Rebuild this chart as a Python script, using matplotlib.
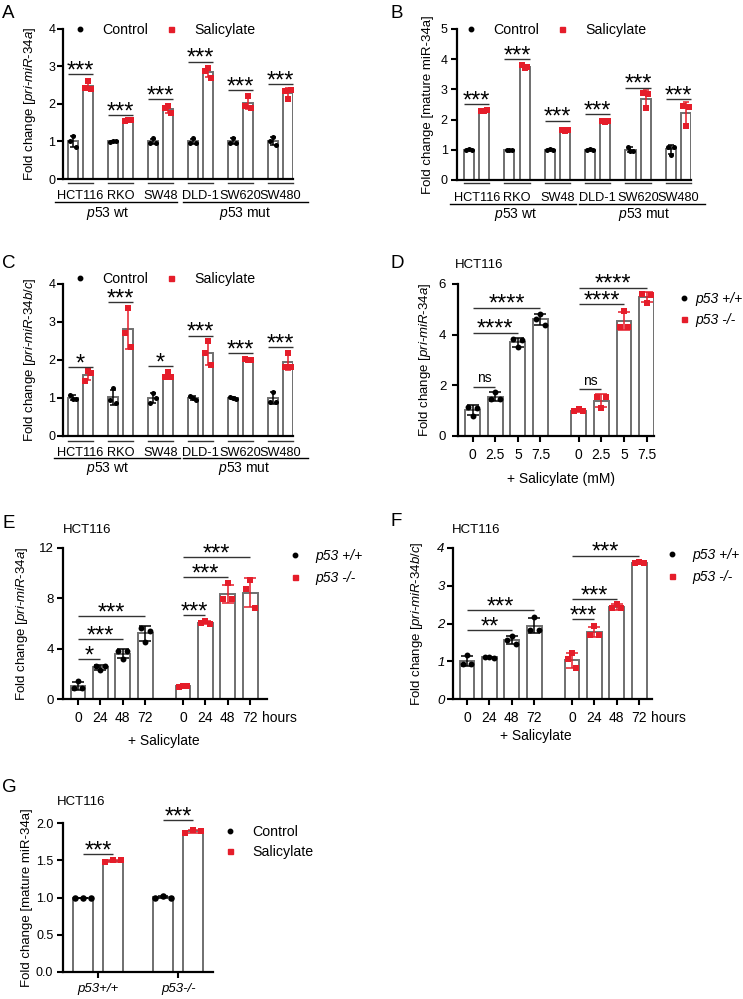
import numpy as np
import matplotlib
matplotlib.use('Agg')
import matplotlib.pyplot as plt
from matplotlib.lines import Line2D
from matplotlib.transforms import blended_transform_factory

plt.rcParams['font.family'] = ['Liberation Sans', 'DejaVu Sans']
plt.rcParams['mathtext.fontset'] = 'custom'
plt.rcParams['mathtext.rm'] = 'Liberation Sans'
plt.rcParams['mathtext.it'] = 'Liberation Sans:italic'
plt.rcParams['mathtext.bf'] = 'Liberation Sans:bold'

# ------------------------------------------------------------------ data
cell_lines = ['HCT116', 'RKO', 'SW48', 'DLD-1', 'SW620', 'SW480']
p53_status = [r'$\mathit{p53}$ wt', r'$\mathit{p53}$ mut']
treat_labels = ['Control', 'Salicylate']
genotype_labels = ['p53 +/+', 'p53 -/-']

# Panel A: pri-miR-34a (replicates)
A_control = [[1.00, 1.15, 0.86], [0.99, 1.02, 1.00], [0.97, 1.08, 0.96],
             [0.96, 1.08, 0.97], [0.97, 1.10, 0.97], [1.00, 1.12, 0.90]]
A_salicylate = [[2.42, 2.60, 2.40], [1.55, 1.57, 1.57], [1.90, 1.95, 1.75],
                [2.88, 2.95, 2.70], [1.95, 2.20, 1.90], [2.35, 2.12, 2.38]]
A_sig_y = [2.80, 1.71, 2.12, 3.13, 2.37, 2.52]
A_sig = ['***', '***', '***', '***', '***', '***']

# Panel B: mature miR-34a
B_control = [[0.99, 1.01, 1.00], [1.00, 1.00, 1.00], [0.99, 1.01, 1.00],
             [0.99, 1.01, 1.00], [1.10, 0.97, 0.95], [1.10, 0.83, 1.10]]
B_salicylate = [[2.28, 2.30, 2.32], [3.80, 3.72, 3.75], [1.65, 1.63, 1.65],
                [1.95, 1.93, 1.97], [2.87, 2.37, 2.84], [2.45, 1.79, 2.41]]
B_sig_y = [2.52, 4.00, 1.96, 2.17, 3.06, 2.67]
B_sig = ['***', '***', '***', '***', '***', '***']

# Panel C: pri-miR-34b/c
C_control = [[1.08, 0.97, 0.97], [0.95, 1.25, 0.87], [0.88, 1.14, 0.99],
             [1.05, 1.00, 0.95], [1.02, 1.00, 0.98], [0.90, 1.17, 0.90]]
C_salicylate = [[1.45, 1.70, 1.65], [2.70, 3.36, 2.35], [1.55, 1.69, 1.55],
                [2.18, 2.51, 1.87], [2.02, 2.00, 2.00], [1.82, 2.18, 1.82]]
C_sig_y = [1.82, 3.53, 1.84, 2.64, 2.18, 2.34]
C_sig = ['*', '***', '*', '***', '***', '***']

# Panel D: dose (mM)
D_doses = ['0', '2.5', '5', '7.5']
D_wt = [[1.16, 0.79, 1.09], [1.45, 1.75, 1.45], [3.83, 3.50, 3.79], [4.61, 4.82, 4.39]]
D_ko = [[0.98, 1.05, 0.98], [1.55, 1.09, 1.55], [4.32, 4.94, 4.32], [5.61, 5.24, 5.57]]
D_sig_wt = [(1, 1.95, 'ns'), (2, 4.08, '****'), (3, 5.06, '****')]
D_sig_ko = [(1, 1.85, 'ns'), (2, 5.20, '****'), (3, 5.85, '****')]

# Panel E: time course pri-miR-34a
time_labels = ['0', '24', '48', '72']
E_wt = [[0.85, 1.43, 0.85], [2.65, 2.30, 2.65], [3.82, 3.18, 3.84], [5.67, 4.56, 5.43]]
E_ko = [[0.98, 1.06, 1.06], [6.02, 6.20, 6.00], [7.93, 9.20, 7.93], [8.72, 9.46, 7.20]]
E_sig_wt = [(1, 3.18, '*'), (2, 4.77, '***'), (3, 6.60, '***')]
E_sig_ko = [(1, 6.65, '***'), (2, 9.67, '***'), (3, 11.26, '***')]

# Panel F: time course pri-miR-34b/c
F_wt = [[0.93, 1.17, 0.93], [1.12, 1.10, 1.08], [1.56, 1.67, 1.45], [1.83, 2.18, 1.83]]
F_ko = [[1.05, 1.21, 0.81], [1.70, 1.93, 1.70], [2.40, 2.52, 2.40], [3.59, 3.64, 3.59]]
F_sig_wt = [(2, 1.83, '**'), (3, 2.36, '***')]
F_sig_ko = [(1, 2.11, '***'), (2, 2.65, '***'), (3, 3.80, '***')]

# Panel G: mature miR-34a in p53 +/+ and -/-
G_genotypes = ['p53+/+', 'p53-/-']
G_control = [[1.00, 1.00, 1.00], [1.00, 1.02, 1.00]]
G_salicylate = [[1.48, 1.50, 1.50], [1.87, 1.90, 1.89]]
G_sig_y = [1.58, 2.04]

# ------------------------------------------------------------------ style
RED = '#e51d2a'
EDGE = '#6f6f6f'
SIGC = '#333333'
W, H = 743, 999
fig = plt.figure(figsize=(W / 100, H / 100), dpi=100)


def px_ax(l, t, r, b):
    ax = fig.add_axes([l / W, 1 - b / H, (r - l) / W, (b - t) / H])
    ax.box = (l, t, r, b)
    for s in ['top', 'right']:
        ax.spines[s].set_visible(False)
    for s in ['left', 'bottom']:
        ax.spines[s].set_linewidth(1.6)
        ax.spines[s].set_color('black')
    return ax


def yfrac(ax, py):
    l, t, r, b = ax.box
    return (b - py) / (b - t)


def xfrac(ax, px):
    l, t, r, b = ax.box
    return (px - l) / (r - l)


def draw_bars(ax, xs, reps, width, color, marker, spread, capsize, s):
    reps = np.array(reps, dtype=float)
    means = reps.mean(axis=1)
    sds = reps.std(axis=1, ddof=1)
    ax.bar(xs, means, width=width, facecolor='white', edgecolor=EDGE,
           linewidth=1.4, zorder=2)
    ax.errorbar(xs, means, yerr=sds, fmt='none', ecolor=color, elinewidth=1.1,
                capsize=capsize, capthick=1.1, zorder=3)
    offs = np.array([-spread, 0.0, spread]) * width
    for x, row in zip(xs, reps):
        ax.scatter(x + offs, row, s=s, color=color, marker=marker, zorder=4,
                   linewidths=0, clip_on=False)


def sig(ax, x1, x2, y, txt):
    ax.plot([x1, x2], [y, y], color=SIGC, lw=1.0, zorder=5, clip_on=False,
            solid_capstyle='butt')
    if txt == 'ns':
        ax.annotate(txt, xy=((x1 + x2) / 2, y), xytext=(0, 3.0),
                    textcoords='offset points', ha='center', va='baseline',
                    fontsize=10, annotation_clip=False)
    else:
        ax.annotate(txt, xy=((x1 + x2) / 2, y), xytext=(0, -2.3),
                    textcoords='offset points', ha='center', va='baseline',
                    fontsize=17, annotation_clip=False)


def set_ylabel_px(ax, text, cx_px, fs=9.5):
    ax.set_ylabel(text, fontsize=fs)
    ax.yaxis.set_label_coords(xfrac(ax, cx_px + 6.2), 0.5)


def legend(ax, labels, x_marker, y_center, ncol, fs, italic, htp, csp=1.0, lsp=0.55):
    handles = [Line2D([], [], marker='o', color='black', ls='', ms=3.2),
               Line2D([], [], marker='s', color=RED, ls='', ms=3.6)]
    fs_px = fs * 100 / 72
    prop = {'size': fs}
    if italic:
        prop['style'] = 'italic'
    ax.legend(handles, labels, ncol=ncol, frameon=False, loc='center left',
              bbox_to_anchor=((x_marker - 0.5 * fs_px) / W, 1 - y_center / H),
              bbox_transform=fig.transFigure, prop=prop, handlelength=1.0,
              handletextpad=htp, columnspacing=csp, labelspacing=lsp,
              borderaxespad=0, borderpad=0)


def letter(ch, x, y):
    fig.text(x / W, 1 - y / H, ch, fontsize=13.5, ha='left', va='baseline')


def fig_text(txt, x, y, ha='left', fs=9.5):
    fig.text(x / W, 1 - y / H, txt, fontsize=fs, ha=ha, va='baseline')


# ------------------------------------------------------------- panels A-C
def cell_panel(ax, ctrl, sal, ylim, yticks, sig_y, sig_txt, w, xlim,
               ylab, ylab_cx, ypad, pair_py, lab_py, long_py, long_spans,
               p53_x, p53_py, leg_y, leg_x):
    xc = np.arange(len(cell_lines), dtype=float)
    xs = xc + 0.375
    draw_bars(ax, xc, ctrl, w, 'black', 'o', 0.28, 2.4, 13)
    draw_bars(ax, xs, sal, w, RED, 's', 0.28, 2.4, 13)
    for i in range(len(cell_lines)):
        sig(ax, xc[i] - w / 2, xs[i] + w / 2, sig_y[i], sig_txt[i])
    ax.set_xlim(*xlim)
    ax.set_ylim(*ylim)
    ax.set_yticks(yticks)
    ax.set_xticks([])
    ax.tick_params(axis='y', direction='out', length=4.5, width=1.5,
                   labelsize=9, pad=ypad)
    set_ylabel_px(ax, ylab, ylab_cx)
    tr = blended_transform_factory(ax.transData, ax.transAxes)
    for i, name in enumerate(cell_lines):
        ax.plot([xc[i] - w / 2, xs[i] + w / 2], [yfrac(ax, pair_py)] * 2,
                transform=tr, color=SIGC, lw=1.0, clip_on=False)
        ax.text((xc[i] + xs[i]) / 2, yfrac(ax, lab_py), name, transform=tr,
                ha='center', va='baseline', fontsize=9.2)
    for (a, b), lab, px in zip(long_spans, p53_status, p53_x):
        ax.plot([a, b], [yfrac(ax, long_py)] * 2, transform=tr, color='black',
                lw=1.0, clip_on=False)
        ax.text(px, yfrac(ax, p53_py), lab, transform=tr, ha='center',
                va='baseline', fontsize=10)
    legend(ax, treat_labels, leg_x[0], leg_y, 2, 10.2, False, 1.1, csp=1.1)


axA = px_ax(63, 29, 293, 179)
cell_panel(axA, A_control, A_salicylate, (0, 4), [0, 1, 2, 3, 4], A_sig_y, A_sig,
           0.24, (-0.25, 5.5),
           r'Fold change [$\mathit{pri}$-$\mathit{miR}$-$\mathit{34a}$]', 32, 1.0,
           183, 199, 202, [(-0.45, 2.6), (2.75, 5.875)], [0.875, 4.3], 217,
           30, (80,))

axB = px_ax(457, 29, 691, 180)
cell_panel(axB, B_control, B_salicylate, (0, 5), [0, 1, 2, 3, 4, 5], B_sig_y, B_sig,
           0.25, (-0.3, 5.5), 'Fold change [mature miR-34a]', 428, 2.2,
           183.3, 201.5, 204, [(-0.47, 2.65), (2.73, 5.84)], [1.14, 4.33], 218,
           30, (471,))

axC = px_ax(63, 284, 293, 436)
cell_panel(axC, C_control, C_salicylate, (0, 4), [0, 1, 2, 3, 4], C_sig_y, C_sig,
           0.24, (-0.25, 5.5),
           r'Fold change [$\mathit{pri}$-$\mathit{miR}$-$\mathit{34b/c}$]', 32, 1.0,
           440.7, 456, 458.5, [(-0.475, 2.675), (2.75, 5.875)], [0.875, 4.27], 472,
           279, (80,))


# ------------------------------------------------------------- panels D-F
def group_panel(ax, wt, ko, sig_wt, sig_ko, xlim, ylim, yticks, labels, ylab,
                ylab_cx, ypad, off2=4.7, w=0.66, italic_y=False):
    p1 = np.arange(4, dtype=float)
    p2 = p1 + off2
    draw_bars(ax, p1, wt, w, 'black', 'o', 0.3, 4.5, 18)
    draw_bars(ax, p2, ko, w, RED, 's', 0.3, 4.5, 18)
    for j, y, t in sig_wt:
        sig(ax, p1[0], p1[j], y, t)
    for j, y, t in sig_ko:
        sig(ax, p2[0], p2[j], y, t)
    ax.set_xlim(*xlim)
    ax.set_ylim(*ylim)
    ax.set_yticks(yticks)
    ax.set_xticks(np.concatenate([p1, p2]))
    ax.set_xticklabels(list(labels) * 2)
    ax.tick_params(axis='y', direction='out', length=4.5, width=1.5,
                   labelsize=9.5, pad=ypad)
    ax.tick_params(axis='x', direction='out', length=4.5, width=1.5,
                   labelsize=10, pad=4.2)
    if italic_y:
        for tl in ax.get_yticklabels():
            tl.set_fontstyle('italic')
    set_ylabel_px(ax, ylab, ylab_cx)
    return p1, p2


axD = px_ax(458, 284, 654, 436)
group_panel(axD, D_wt, D_ko, D_sig_wt, D_sig_ko, (-0.655, 8.03), (0, 6), [0, 2, 4, 6],
            D_doses, r'Fold change [$\mathit{pri}$-$\mathit{miR}$-$\mathit{34a}$]',
            427, 4.0)
legend(axD, genotype_labels, 684, 309.5, 1, 10, True, 0.3)

axE = px_ax(63, 548, 267, 699)
q1, q2 = group_panel(axE, E_wt, E_ko, E_sig_wt, E_sig_ko, (-0.67, 8.44), (0, 12),
                     [0, 4, 8, 12], time_labels,
                     r'Fold change [$\mathit{pri}$-$\mathit{miR}$-$\mathit{34a}$]',
                     24, 2.0, off2=4.69)
trE = blended_transform_factory(axE.transData, axE.transAxes)
axE.text(q2[-1] + 0.54, yfrac(axE, 721.5), 'hours', transform=trE, ha='left',
         va='baseline', fontsize=10)
legend(axE, genotype_labels, 295, 567, 1, 10, True, 1.0)

axF = px_ax(453, 548, 652, 699)
r1, r2 = group_panel(axF, F_wt, F_ko, F_sig_wt, F_sig_ko, (-0.625, 8.26), (0, 4),
                     [0, 1, 2, 3, 4], time_labels,
                     r'Fold change [$\mathit{pri}$-$\mathit{miR}$-$\mathit{34b/c}$]',
                     419, 1.5, off2=4.69, italic_y=True)
trF = blended_transform_factory(axF.transData, axF.transAxes)
axF.text(r2[-1] + 0.54, yfrac(axF, 721.5), 'hours', transform=trF, ha='left',
         va='baseline', fontsize=10)
legend(axF, genotype_labels, 672, 566, 1, 10, True, 1.0)

# ------------------------------------------------------------- panel G
axG = px_ax(63, 823, 213, 972)
gc = np.array([0.0, 2.67])
gs = gc + 1.0
draw_bars(axG, gc, G_control, 0.67, 'black', 'o', 0.38, 3.5, 22)
draw_bars(axG, gs, G_salicylate, 0.67, RED, 's', 0.38, 3.5, 22)
for i in range(2):
    sig(axG, gc[i], gs[i], G_sig_y[i], '***')
axG.set_xlim(-0.667, 4.333)
axG.set_ylim(0, 2.0)
axG.set_yticks([0.0, 0.5, 1.0, 1.5, 2.0])
axG.set_yticklabels(['0.0', '0.5', '1.0', '1.5', '2.0'])
axG.set_xticks((gc + gs) / 2)
axG.set_xticklabels(G_genotypes, fontstyle='italic')
axG.tick_params(axis='y', direction='out', length=4.5, width=1.5, labelsize=9, pad=2.5)
axG.tick_params(axis='x', direction='out', length=4.5, width=1.5, labelsize=9.5, pad=3.5)
set_ylabel_px(axG, 'Fold change [mature miR-34a]', 27)
legend(axG, treat_labels, 230, 842, 1, 10.2, False, 1.1, lsp=0.4)

# ------------------------------------------------------------- text
letter('A', 2, 18)
letter('B', 390, 18.3)
letter('C', 2, 268.3)
letter('D', 390, 268.3)
letter('E', 2, 528)
letter('F', 390, 526)
letter('G', 2, 791.7)

fig_text('HCT116', 455, 268.3)
fig_text('HCT116', 63.3, 533)
fig_text('HCT116', 452, 533)
fig_text('HCT116', 56.7, 805)
fig_text('+ Salicylate (mM)', 561, 483, ha='center', fs=10)
fig_text('+ Salicylate', 164, 745, ha='center', fs=10)
fig_text('+ Salicylate', 535.5, 740, ha='center', fs=10)

fig.savefig('out.png', dpi=100)
